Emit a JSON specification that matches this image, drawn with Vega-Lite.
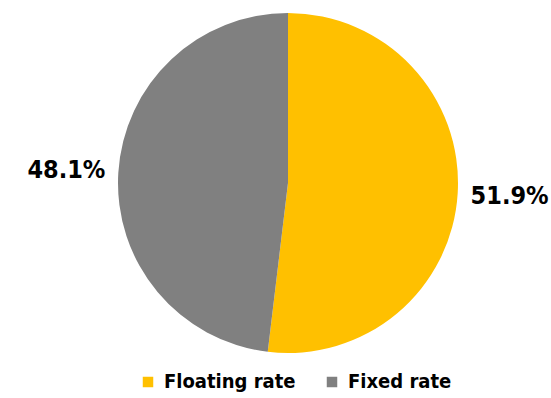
{
  "$schema": "https://vega.github.io/schema/vega-lite/v6.json",
  "width": 540,
  "height": 366,
  "autosize": {"type": "none"},
  "padding": {"left": 18, "top": 0, "right": 0, "bottom": 32},
  "background": "white",
  "view": {"stroke": null},
  "data": {
    "values": [
      {"type": "Floating rate", "share": 51.9, "label": "51.9%", "idx": 1},
      {"type": "Fixed rate", "share": 48.1, "label": "48.1%", "idx": 2}
    ]
  },
  "encoding": {
    "theta": {"field": "share", "type": "quantitative", "stack": true},
    "order": {"field": "idx", "type": "quantitative"}
  },
  "layer": [
    {
      "mark": {"type": "arc", "outerRadius": 170},
      "encoding": {
        "color": {
          "field": "type",
          "type": "nominal",
          "scale": {"domain": ["Floating rate", "Fixed rate"], "range": ["#FFC000", "#808080"]},
          "legend": {
            "title": null,
            "orient": "none",
            "direction": "horizontal",
            "legendX": 120,
            "legendY": 372,
            "symbolType": "square",
            "symbolSize": 110,
            "symbolStrokeWidth": 0,
            "labelFont": "DejaVu Sans Condensed",
            "labelFontWeight": "bold",
            "labelFontSize": 20,
            "labelColor": "black",
            "labelOffset": 6,
            "columnPadding": 26,
            "labelLimit": 300
          }
        }
      }
    },
    {
      "mark": {
        "type": "text",
        "radius": 222,
        "font": "DejaVu Sans Condensed",
        "fontWeight": "bold",
        "fontSize": 25,
        "color": "black",
        "align": "center",
        "baseline": "middle"
      },
      "encoding": {
        "text": {"field": "label", "type": "nominal"}
      }
    }
  ]
}
